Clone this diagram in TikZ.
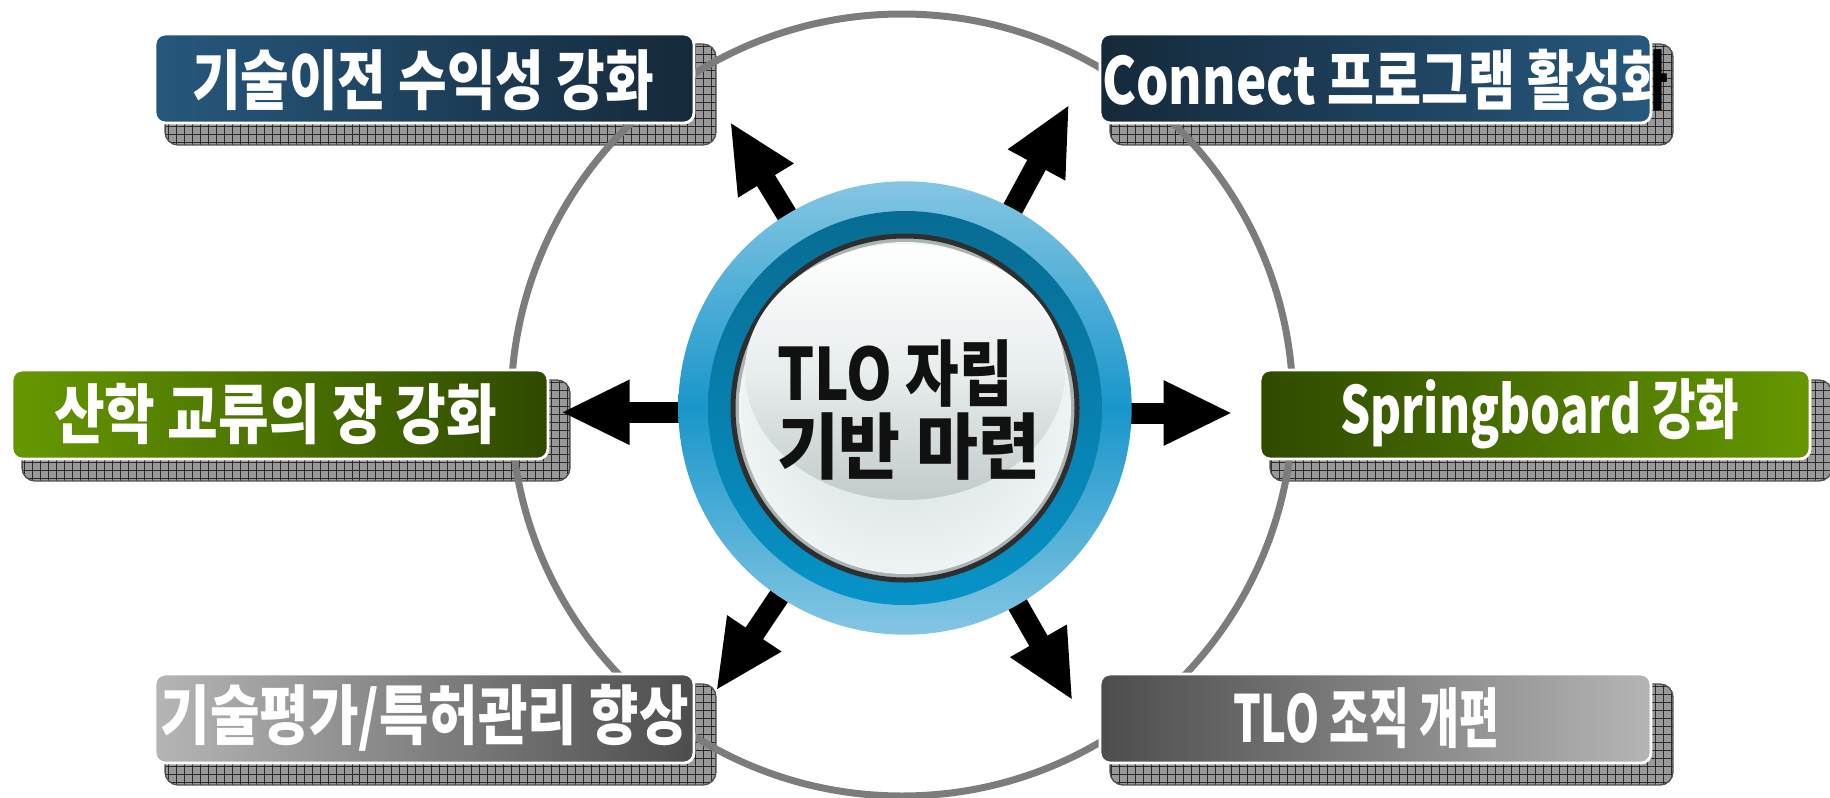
\documentclass[tikz,border=0pt]{standalone}
\usepackage{fontspec}
\usepackage{graphicx}
\setmainfont{Noto Sans CJK KR}
\usetikzlibrary{arrows.meta,patterns.meta}
\definecolor{navyA}{HTML}{26587D}
\definecolor{navyB}{HTML}{15293A}
\definecolor{grnA}{HTML}{659800}
\definecolor{grnB}{HTML}{2F4A00}
\definecolor{gryA}{HTML}{B5B5B5}
\definecolor{gryB}{HTML}{4D4D4D}
\definecolor{shfill}{HTML}{999999}
\definecolor{shline}{HTML}{2A2A2A}
\definecolor{shedge}{HTML}{505050}
\definecolor{ringgray}{HTML}{7C7C7C}
\definecolor{blLight}{HTML}{84C6E2}
\definecolor{blDark}{HTML}{1A96CB}
\definecolor{inA}{HTML}{086C93}
\definecolor{inB}{HTML}{0793C8}
\definecolor{rimdark}{HTML}{2E2E2E}
\definecolor{rimgray}{HTML}{AAB2B4}
\definecolor{discA}{HTML}{D3DCDD}
\definecolor{discB}{HTML}{EEF3F3}
\definecolor{glossM}{HTML}{E8EDED}
\definecolor{glossB}{HTML}{C2CACB}
\definecolor{coretext}{HTML}{111111}
\newcommand\fitw[2]{\resizebox{#1}{\height}{#2}}
\begin{document}
\begin{tikzpicture}[x=0.02cm,y=-0.02cm,
  shadowbox/.style={rounded corners=0.26cm, preaction={fill=shfill},
    pattern={Hatch[angle=0,distance=0.16cm,line width=0.5pt]}, pattern color=shline,
    draw=shedge, line width=0.8pt, minimum height=2.02cm, inner sep=0pt},
  panel/.style={rounded corners=0.2cm, draw=white, line width=1.6pt,
    minimum height=1.78cm, inner sep=0pt},
  lbl/.style={font=\fontsize{37}{42}\selectfont\bfseries, text=white, inner sep=0pt},
  bigarrow/.style={line width=0.42cm, -{Triangle[length=1.38cm,width=1.2cm]}},
]
\useasboundingbox (0,0) rectangle (1830,798);

% shadows
\node[shadowbox, minimum width=11.02cm] (s1) at (440.5,94.5) {};
\node[shadowbox, minimum width=11.26cm] (s2) at (1391.5,94.5) {};
\node[shadowbox, minimum width=10.96cm] (s3) at (296,430.5) {};
\node[shadowbox, minimum width=11.24cm] (s4) at (1551,430.5) {};
\node[shadowbox, minimum width=11.02cm] (s5) at (440.5,734.5) {};
\node[shadowbox, minimum width=11.26cm] (s6) at (1391.5,734.5) {};

% dark copy of the overflowing label
\node[lbl, text=black, anchor=west] (t2k) at (1102,80) {\fitw{11.32cm}{Connect 프로그램 활성화}};

% big gray ring
\coordinate (rc) at (902,405);
\draw[ringgray, line width=0.14cm] (rc) circle (391);

% panels
\node[panel, minimum width=10.78cm, left color=navyA, right color=navyB] (b1) at (424.5,78.5) {};
\node[lbl] (t1) at (423,80) {\fitw{9.24cm}{기술이전 수익성 강화}};

\node[panel, minimum width=11.02cm, left color=navyB, right color=navyA] (b2) at (1375.5,78.5) {};
\begin{scope}
  \clip[rounded corners=0.2cm] (b2.south west) rectangle (b2.north east);
  \node[lbl, anchor=west] (t2) at (1102,80) {\fitw{11.32cm}{Connect 프로그램 활성화}};
\end{scope}

\node[panel, minimum width=10.72cm, left color=grnA, right color=grnB] (b3) at (280,414.5) {};
\node[lbl] (t3) at (275.5,414) {\fitw{8.86cm}{산학 교류의 장 강화}};

\node[panel, minimum width=11.0cm, left color=grnB, right color=grnA] (b4) at (1535,414.5) {};
\node[lbl] (t4) at (1540,414) {\fitw{7.98cm}{Springboard 강화}};

\node[panel, minimum width=10.78cm, left color=gryA, right color=gryB] (b5) at (424.5,718.5) {};
\node[lbl] (t5) at (424.6,718) {\fitw{10.56cm}{기술평가/특허관리 향상}};

\node[panel, minimum width=11.02cm, left color=gryB, right color=gryA] (b6) at (1375.5,718.5) {};
\node[lbl] (t6) at (1366,718) {\fitw{5.32cm}{TLO 조직 개편}};

% arrows
\coordinate (ctr) at (905,408);
\coordinate (tUL) at (730,121.7);
\coordinate (tUR) at (1069.3,104.3);
\coordinate (tL) at (560.7,412.3);
\coordinate (tR) at (1232.7,413);
\coordinate (tDL) at (716,690.7);
\coordinate (tDR) at (1072.7,700.7);
\draw[bigarrow] (ctr) -- (tUL);
\draw[bigarrow] (ctr) -- (tUR);
\draw[bigarrow] (ctr |- tL) -- (tL);
\draw[bigarrow] (ctr |- tR) -- (tR);
\draw[bigarrow] (ctr) -- (tDL);
\draw[bigarrow] (ctr) -- (tDR);

% central button
\shade[shading angle=45, top color=blLight, bottom color=blLight, middle color=blDark] (ctr) circle (226.7);
\shade[shading angle=45, top color=inA, bottom color=inB] (ctr) circle (197);
\draw[rimdark, line width=0.1cm, fill=rimgray] (ctr) circle (172);
\shade[inner color=discA, outer color=discB] (ctr) circle (166);
\shade[top color=white, bottom color=glossB, middle color=glossM] (905,372) ellipse (160 and 128);
\node[align=left, font=\fontsize{41}{42}\selectfont\bfseries, text=coretext, inner sep=0pt] (core) at (908.5,410)
  {\fitw{4.72cm}{TLO 자립}\\\fitw{5.26cm}{기반 마련}};
\end{tikzpicture}
\end{document}
